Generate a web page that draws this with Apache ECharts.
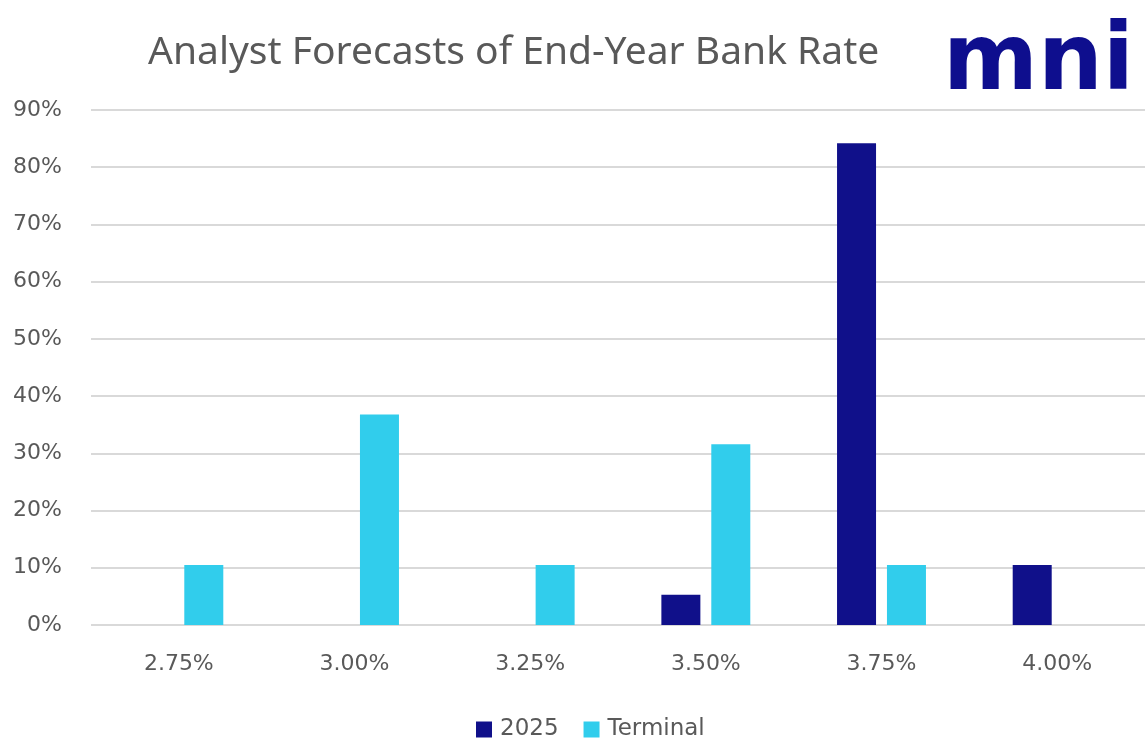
<!DOCTYPE html>
<html><head><meta charset="utf-8">
<script src="https://cdn.jsdelivr.net/npm/echarts@6/dist/echarts.min.js"></script>
<style>html,body{margin:0;padding:0;background:#fff}#c{width:1145px;height:742px}</style>
</head><body><div id="c"></div>
<script>
var categories = ['2.75%','3.00%','3.25%','3.50%','3.75%','4.00%'];
var series2025 = [0, 0, 0, 5.3, 84.2, 10.5];
var seriesTerminal = [10.5, 36.8, 10.5, 31.6, 10.5, 0];
var yTicks = [0,10,20,30,40,50,60,70,80,90];

var chart = echarts.init(document.getElementById('c'));
var grey = '#595959';
chart.setOption({
  backgroundColor: '#fff',
  animation: false,
  title: {
    text: 'Analyst Forecasts of End-Year Bank Rate',
    left: 143, top: 28,
    textStyle: {fontFamily: 'Noto Sans', fontWeight: 'normal', fontSize: 39, color: grey}
  },
  graphic: [{
    type: 'text', x: 943, y: 111, scaleX: 0.99,
    style: {text: 'mni', x: 0, y: 0, fontFamily: 'DejaVu Sans', fontWeight: 'bold', fontSize: 92,
            fill: '#0e0e8e', verticalAlign: 'bottom', align: 'left'}
  }],
  legend: {
    bottom: -4, left: 471, itemWidth: 16, itemHeight: 16, itemGap: 25,
    icon: 'rect',
    textStyle: {fontFamily: 'DejaVu Sans', fontSize: 23, color: grey, padding: [0, 0, 0, 3]}
  },
  grid: {left: 91, right: -7, top: 110, bottom: 117},
  xAxis: {
    type: 'category', data: categories,
    axisLine: {show: false}, axisTick: {show: false},
    axisLabel: {fontFamily: 'DejaVu Sans', fontSize: 22, color: grey, margin: 28}
  },
  yAxis: {
    type: 'value', min: 0, max: 90, interval: 10,
    axisLabel: {
      fontFamily: 'DejaVu Sans', fontSize: 22, color: grey, margin: 29,
      formatter: function (v) { return yTicks.indexOf(v) >= 0 ? v + '%' : ''; }
    },
    splitLine: {lineStyle: {color: '#d9d9d9', width: 2}}
  },
  series: [
    {name: '2025', type: 'bar', data: series2025, barWidth: 39, barGap: '28%',
     itemStyle: {color: '#10108a'}},
    {name: 'Terminal', type: 'bar', data: seriesTerminal, barWidth: 39,
     itemStyle: {color: '#31cdec'}}
  ]
});
</script></body></html>
